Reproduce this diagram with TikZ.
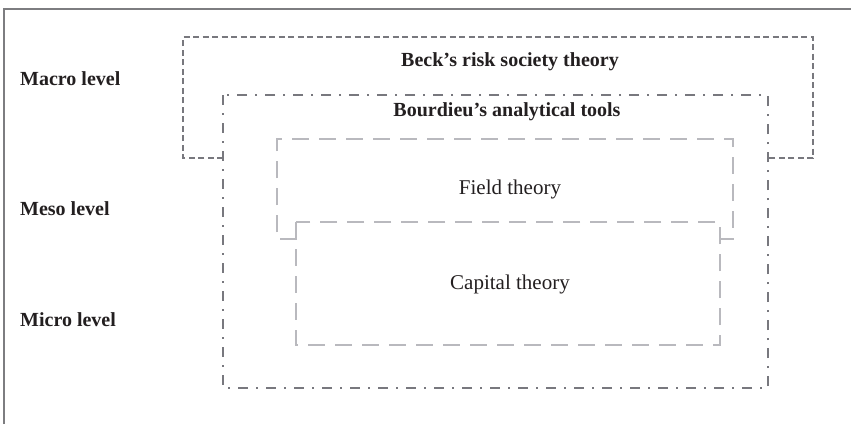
\documentclass[tikz,border=0pt]{standalone}
\usepackage{fontspec}
\setmainfont{Liberation Serif}
\definecolor{framegray}{RGB}{125,125,128}
\definecolor{darkline}{RGB}{120,120,126}
\definecolor{lightline}{RGB}{185,185,190}
\definecolor{inktext}{RGB}{35,31,32}
\begin{document}
\begin{tikzpicture}[x=1pt,y=-1pt,
  frameline/.style={draw=framegray,line width=2pt},
  beckline/.style={draw=darkline,line width=1.5pt,dash pattern=on 6pt off 3.5pt},
  bourline/.style={draw=darkline,line width=1.5pt,dash pattern=on 10pt off 8pt on 2pt off 8pt},
  innerline/.style={draw=lightline,line width=1.6pt,dash pattern=on 17pt off 10pt},
  boldlabel/.style={font=\fontsize{20}{24}\selectfont\bfseries,text=inktext,inner sep=0pt},
  plainlabel/.style={font=\fontsize{21}{25}\selectfont,text=inktext,inner sep=0pt},
  levellabel/.style={font=\fontsize{20}{24}\selectfont\bfseries,text=inktext,inner sep=0pt,anchor=west}]
\useasboundingbox (0,0) rectangle (851,424);
\fill[white] (0,0) rectangle (851,424);

% outer frame, open to the right and bottom
\draw[frameline] (4,424) -- (4,9) -- (851,9);

% level labels
\node[levellabel] (macro) at (20,79) {Macro level};
\node[levellabel] (meso)  at (20,209) {Meso level};
\node[levellabel] (micro) at (20,320) {Micro level};

% Beck's risk society theory: open at the bottom
\draw[beckline] (223,158) -- (183,158) -- (183,37) -- (813,37) -- (813,158) -- (768,158);
\node[boldlabel] (beck) at (510,62) {Beck’s risk society theory};

% Bourdieu's analytical tools
\draw[bourline] (223,95) rectangle (768,388);
\node[boldlabel] (bourdieu) at (507,112) {Bourdieu’s analytical tools};

% Field theory: bottom hidden by the capital box
\draw[innerline] (297,239) -- (277,239) -- (277,139) -- (733,139) -- (733,239) -- (720,239);
\node[plainlabel] (field) at (510,189) {Field theory};

% Capital theory
\draw[innerline] (296,222) rectangle (720,345);
\node[plainlabel] (capital) at (510,284) {Capital theory};
\end{tikzpicture}
\end{document}
